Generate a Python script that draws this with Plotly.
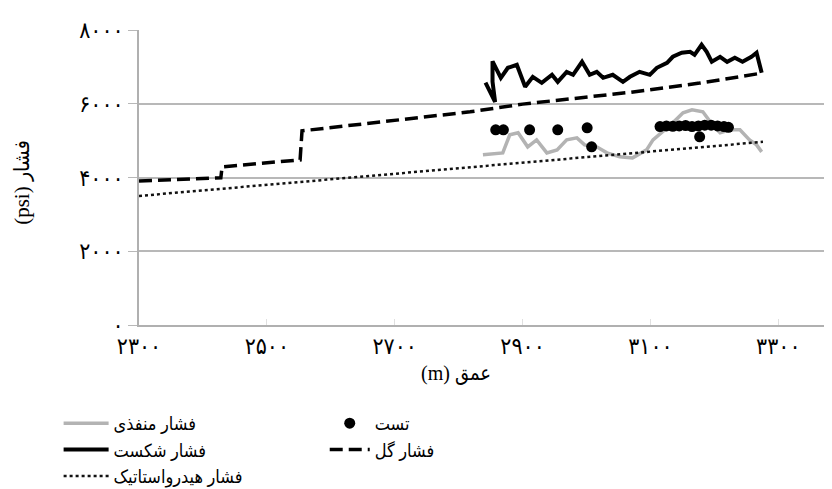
import plotly.graph_objects as go

# ---- data ----
pore_depth = [2838, 2869, 2880, 2893, 2908, 2922, 2938, 2954, 2969, 2985, 2997, 3016, 3032, 3052,
              3072, 3094, 3104, 3119, 3135, 3151, 3165, 3182, 3197, 3209, 3224, 3240, 3255, 3266, 3274]
pore_psi = [4614, 4668, 5157, 5211, 4831, 5021, 4668, 4750, 5021, 5075, 4885, 4831, 4668, 4560,
            4532, 4750, 5021, 5238, 5482, 5754, 5835, 5781, 5428, 5211, 5292, 5292, 5021, 4885, 4695]

frac_depth = [2842, 2857, 2853, 2853, 2866, 2877, 2891, 2904, 2916, 2930, 2946, 2955, 2969, 2979,
              2993, 3005, 3016, 3026, 3041, 3057, 3068, 3083, 3099, 3110, 3126, 3135, 3149, 3162,
              3169, 3180, 3188, 3196, 3209, 3220, 3232, 3244, 3258, 3266, 3274]
frac_psi = [6570, 6050, 6600, 7150, 6700, 6975, 7056, 6459, 6730, 6568, 6785, 6595, 6866, 6785,
            7138, 6785, 6866, 6703, 6785, 6595, 6730, 6866, 6785, 6975, 7111, 7274, 7382, 7409,
            7328, 7599, 7409, 7138, 7274, 7138, 7246, 7138, 7274, 7382, 6839]

hydro_depth = [2300, 2500, 2700, 2900, 3100, 3276]
hydro_psi = [3500, 3800, 4100, 4400, 4700, 4967]

mud_depth = [2300, 2428, 2430, 2552, 2555, 2739, 2818, 2900, 3068, 3177, 3274]
mud_psi = [3908, 3990, 4290, 4478, 5265, 5618, 5781, 5990, 6310, 6560, 6830]

test_depth = [2858, 2870, 2911, 2955, 3001, 3008, 3115, 3125, 3135, 3145, 3155, 3165, 3175,
              3177, 3185, 3195, 3205, 3215, 3222]
test_psi = [5292, 5292, 5292, 5292, 5346, 4831, 5380, 5400, 5390, 5400, 5410, 5380, 5400,
            5102, 5420, 5420, 5400, 5380, 5360]

x_ticks = [2300, 2500, 2700, 2900, 3100, 3300]
x_ticktext = ["۲۳۰۰", "۲۵۰۰", "۲۷۰۰", "۲۹۰۰", "۳۱۰۰", "۳۳۰۰"]
y_ticks = [0, 2000, 4000, 6000, 8000]
y_ticktext = ["۰", "۲۰۰۰", "۴۰۰۰", "۶۰۰۰", "۸۰۰۰"]

names = {
    "pore": "فشار منفذی",
    "frac": "فشار شکست",
    "hydro": "فشار هیدرواستاتیک",
    "test": "تست",
    "mud": "فشار گل",
}
x_title = "(m) عمق"
y_title = "(psi) فشار"

FONT = "Liberation Serif, DejaVu Sans Condensed, DejaVu Sans, serif"

fig = go.Figure()
fig.add_trace(go.Scatter(x=pore_depth, y=pore_psi, mode="lines", name=names["pore"],
                         line=dict(color="#b3b3b3", width=3.5), legend="legend"))
fig.add_trace(go.Scatter(x=frac_depth, y=frac_psi, mode="lines", name=names["frac"],
                         line=dict(color="#000000", width=4), legend="legend"))
fig.add_trace(go.Scatter(x=hydro_depth, y=hydro_psi, mode="lines", name=names["hydro"],
                         line=dict(color="#111111", width=2.5, dash="dot"), legend="legend"))
fig.add_trace(go.Scatter(x=mud_depth, y=mud_psi, mode="lines", name=names["mud"],
                         line=dict(color="#000000", width=3.5, dash="13px,6px"), legend="legend2"))
fig.add_trace(go.Scatter(x=test_depth, y=test_psi, mode="markers", name=names["test"],
                         marker=dict(color="#000000", size=11), legend="legend2"))

# the page body has an 8px default margin, so the figure is offset by 8px
fig.update_layout(
    width=832, height=489,
    margin=dict(l=131, r=8, t=22, b=172, autoexpand=False),
    paper_bgcolor="white", plot_bgcolor="white",
    font=dict(family=FONT, size=15, color="#000"),
    xaxis=dict(range=[2300, 3384], tickvals=x_ticks, ticktext=x_ticktext,
               showgrid=False, zeroline=False, showline=True, linecolor="#b0b0b0", linewidth=1.5,
               ticks="inside", ticklen=6, tickcolor="#e0e0e0", automargin=False,
               tickfont=dict(size=23, family=FONT)),
    yaxis=dict(range=[0, 8000], tickvals=y_ticks, ticktext=y_ticktext,
               showgrid=True, gridcolor="#b8b8b8", gridwidth=1.5, zeroline=False,
               showline=True, linecolor="#b0b0b0", linewidth=1.5, automargin=False,
               ticks="outside", ticklen=9, tickcolor="#b8b8b8", ticklabelstandoff=0,
               tickfont=dict(size=23, family=FONT)),
    legend=dict(x=-0.116, y=-0.271, xanchor="left", yanchor="top", orientation="v",
                itemwidth=45, tracegroupgap=0, font=dict(size=18, family=FONT),
                bgcolor="rgba(0,0,0,0)"),
    legend2=dict(x=0.268, y=-0.271, xanchor="left", yanchor="top", orientation="v",
                 traceorder="reversed", itemwidth=40, font=dict(size=18, family=FONT),
                 bgcolor="rgba(0,0,0,0)"),
    annotations=[
        dict(text=x_title, xref="paper", yref="paper", x=0.457, y=-0.163,
             xanchor="center", yanchor="middle",
             showarrow=False, font=dict(size=20, family=FONT)),
        dict(text=y_title, xref="paper", yref="paper", x=-0.169, y=0.485, textangle=-90,
             xanchor="center", yanchor="middle",
             showarrow=False, font=dict(size=21, family=FONT)),
    ],
)

fig.write_html("out.html")
